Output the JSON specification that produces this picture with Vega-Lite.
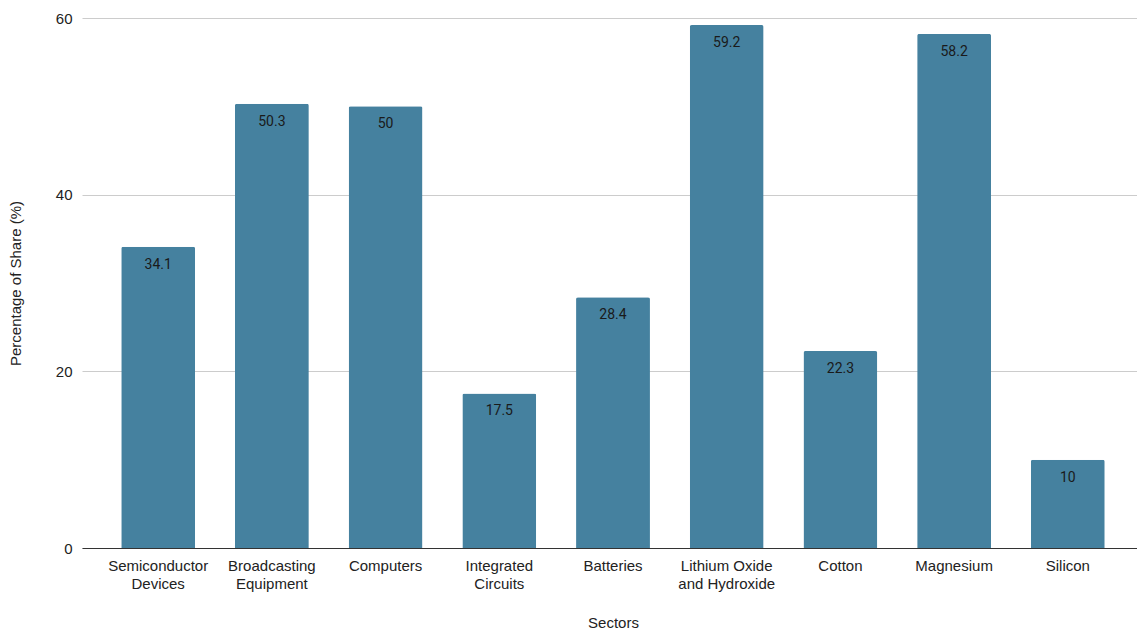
{
  "$schema": "https://vega.github.io/schema/vega-lite/v6.json",
  "width": 1062,
  "height": 530,
  "autosize": {"type": "none"},
  "padding": {"left": 82, "top": 18, "right": 0, "bottom": 82},
  "background": "white",
  "config": {
    "view": {"stroke": null},
    "font": "Liberation Sans"
  },
  "data": {
    "values": [
      {"sector": "Semiconductor|Devices", "share": 34.1},
      {"sector": "Broadcasting|Equipment", "share": 50.3},
      {"sector": "Computers", "share": 50},
      {"sector": "Integrated|Circuits", "share": 17.5},
      {"sector": "Batteries", "share": 28.4},
      {"sector": "Lithium Oxide|and Hydroxide", "share": 59.2},
      {"sector": "Cotton", "share": 22.3},
      {"sector": "Magnesium", "share": 58.2},
      {"sector": "Silicon", "share": 10}
    ]
  },
  "encoding": {
    "x": {
      "field": "sector",
      "type": "nominal",
      "sort": null,
      "scale": {"paddingInner": 0.35, "paddingOuter": 0.345},
      "axis": {
        "title": "Sectors",
        "labelExpr": "split(datum.label, '|')",
        "labelAngle": 0,
        "labelFont": "Liberation Sans",
        "labelFontSize": 15,
        "labelColor": "#222222",
        "labelPadding": 10,
        "labelLineHeight": 18,
        "ticks": false,
        "domainColor": "#333333",
        "domainWidth": 1,
        "titleFont": "Liberation Sans",
        "titleFontSize": 15,
        "titleFontWeight": "normal",
        "titleColor": "#222222",
        "titlePadding": 24
      }
    },
    "y": {
      "field": "share",
      "type": "quantitative",
      "scale": {"domain": [0, 60]},
      "axis": {
        "title": "Percentage of Share (%)",
        "values": [0, 20, 40, 60],
        "domain": false,
        "ticks": false,
        "labelFont": "Liberation Sans",
        "labelFontSize": 15,
        "labelColor": "#222222",
        "labelPadding": 10,
        "gridColor": "#cccccc",
        "titleFont": "Liberation Sans",
        "titleFontSize": 15,
        "titleFontWeight": "normal",
        "titleColor": "#222222",
        "titlePadding": 32
      }
    }
  },
  "layer": [
    {
      "mark": {"type": "bar", "color": "#45819F", "cornerRadiusTopLeft": 2, "cornerRadiusTopRight": 2}
    },
    {
      "mark": {"type": "text", "baseline": "top", "dy": 11, "fontSize": 14, "color": "#1a1a1a", "font": "Roboto"},
      "encoding": {"text": {"field": "share", "type": "quantitative"}}
    }
  ]
}
